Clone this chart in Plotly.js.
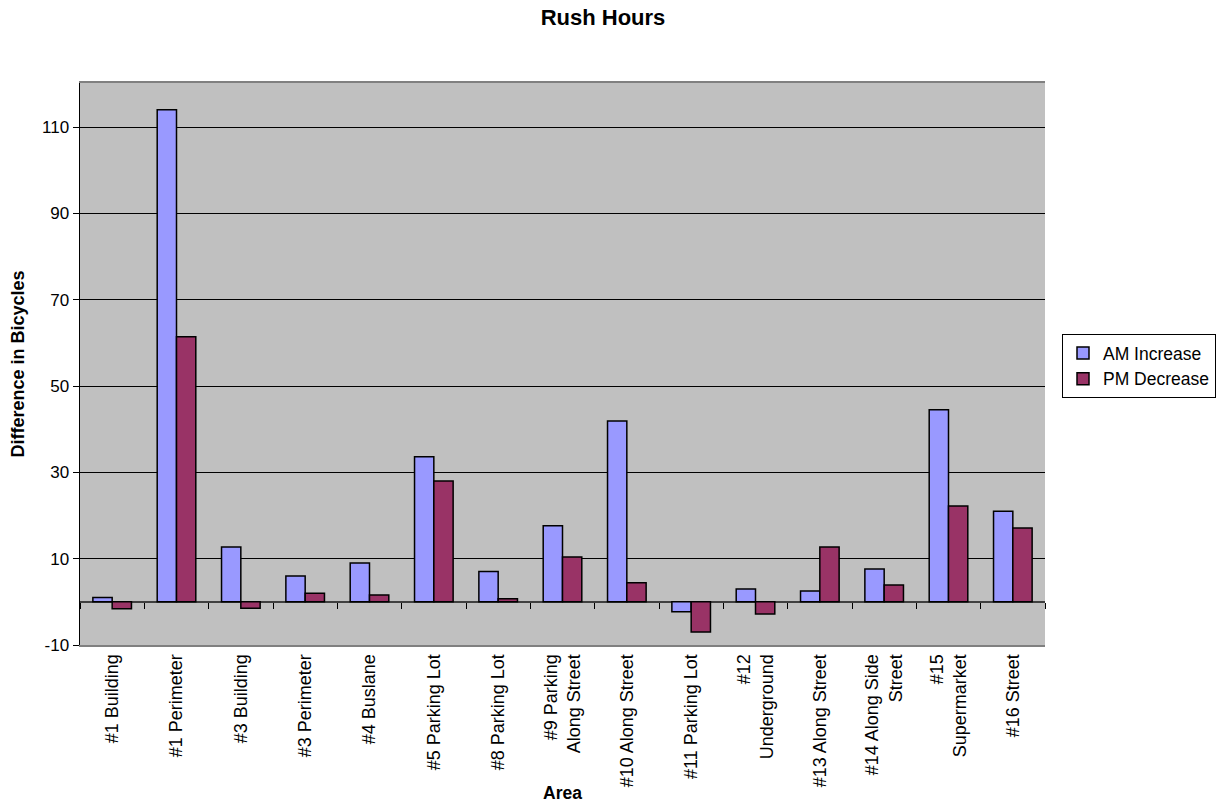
<!DOCTYPE html>
<html>
<head>
<meta charset="utf-8">
<script src="https://cdn.plot.ly/plotly-3.0.1.min.js"></script>
<style>html,body{margin:0;padding:0;background:#fff;}#chart{width:1217px;height:805px;}</style>
</head>
<body>
<div id="chart"></div>
<script>
const categories = [
  "#1 Building", "#1 Perimeter", "#3 Building", "#3 Perimeter", "#4 Buslane",
  "#5 Parking Lot", "#8 Parking Lot", "#9 Parking<br>Along Street", "#10 Along Street",
  "#11 Parking Lot", "#12<br>Underground", "#13 Along Street", "#14 Along Side<br>Street",
  "#15<br>Supermarket", "#16 Street"
];
const amIncrease = [1, 114, 12.7, 6, 9, 33.6, 7, 17.6, 41.9, -2.3, 3, 2.5, 7.6, 44.5, 21];
const pmDecrease = [-1.6, 61.4, -1.5, 2, 1.6, 28, 0.7, 10.4, 4.4, -7, -2.8, 12.7, 3.9, 22.2, 17.1];
const yTicks = [-10, 10, 30, 50, 70, 90, 110];
const yTickText = ["-10", "10", "30", "50", "70", "90", "110"];

const font = "Liberation Sans, Arial, sans-serif";
const yMin = -10, yMax = 120.2;
const traces = [
  {type: "bar", name: "AM Increase", x: categories, y: amIncrease,
   marker: {color: "#9999ff", line: {color: "#000", width: 1.5}}},
  {type: "bar", name: "PM Decrease", x: categories, y: pmDecrease,
   marker: {color: "#993366", line: {color: "#000", width: 1.5}}},
  {type: "scatter", mode: "markers", x: categories, y: amIncrease, xaxis: "x2",
   marker: {opacity: 0}, showlegend: false, hoverinfo: "skip"}
];
const layout = {
  width: 1217, height: 805,
  margin: {l: 80, r: 172, t: 83, b: 160},
  paper_bgcolor: "#fff", plot_bgcolor: "#c0c0c0",
  font: {family: font, size: 17, color: "#000"},
  title: {text: "<b>Rush Hours</b>", x: 603 / 1217, xref: "container", xanchor: "center",
          y: 0.978, yanchor: "middle",
          font: {family: font, size: 22, color: "#000"}},
  barmode: "group", bargap: 0.4, bargroupgap: 0,
  xaxis: {
    range: [-0.5, categories.length - 0.5], autorange: false,
    tickangle: -90, ticks: "", showgrid: false, zeroline: false,
    showline: true, linecolor: "#808080", linewidth: 2, mirror: true,
    tickfont: {family: font, size: 18},
    title: {text: "<b>Area</b>", font: {family: font, size: 17.5}, standoff: 0}
  },
  xaxis2: {
    overlaying: "x", anchor: "free", position: (0 - yMin) / (yMax - yMin), side: "bottom",
    matches: "x", showticklabels: false, ticks: "outside", tickson: "boundaries",
    ticklen: 6, tickcolor: "#000", tickwidth: 1, showline: false, showgrid: false, zeroline: false
  },
  yaxis: {
    range: [yMin, yMax], tickvals: yTicks, ticktext: yTickText, ticks: "outside", ticklen: 6, tickcolor: "#000",
    showgrid: true, gridcolor: "#000", gridwidth: 1,
    zeroline: true, zerolinecolor: "#404040", zerolinewidth: 1.5,
    showline: true, linecolor: "#000", linewidth: 1.5,
    tickfont: {family: font, size: 17},
    title: {text: "<b>Difference in Bicycles</b>", font: {family: font, size: 18}, standoff: 12}
  },
  legend: {
    xref: "container", yref: "container",
    x: 1062 / 1217, xanchor: "left", y: 1 - 366 / 805, yanchor: "middle",
    bordercolor: "#000", borderwidth: 1, bgcolor: "#fff",
    font: {family: font, size: 17.5}, tracegroupgap: 2, itemwidth: 30
  },
  showlegend: true
};
Plotly.newPlot("chart", traces, layout, {displayModeBar: false, staticPlot: true});
</script>
</body>
</html>
